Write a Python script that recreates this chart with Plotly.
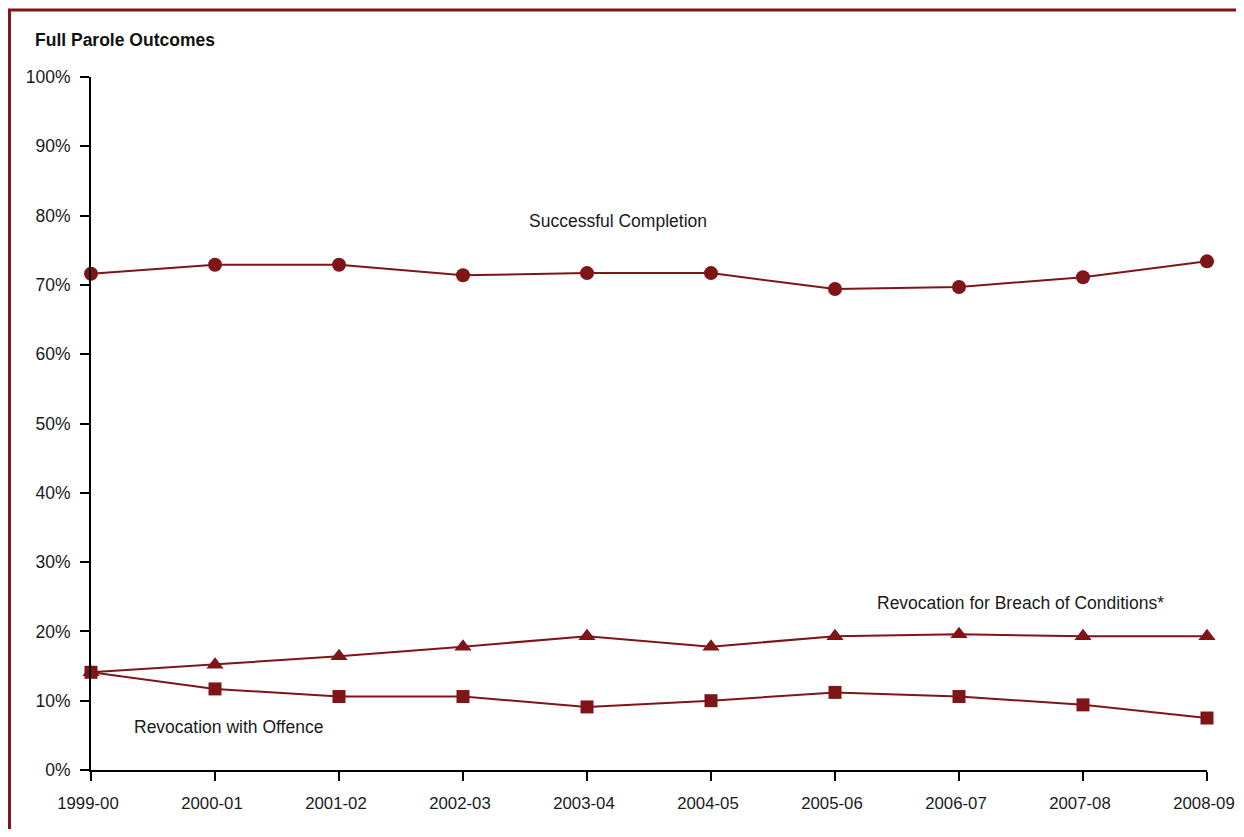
import plotly.graph_objects as go

years = ["1999-00", "2000-01", "2001-02", "2002-03", "2003-04",
         "2004-05", "2005-06", "2006-07", "2007-08", "2008-09"]
successful = [71.6, 72.9, 72.9, 71.4, 71.7, 71.7, 69.4, 69.7, 71.1, 73.4]
breach = [14.1, 15.2, 16.4, 17.8, 19.3, 17.8, 19.3, 19.6, 19.3, 19.3]
offence = [14.1, 11.7, 10.6, 10.6, 9.1, 10.0, 11.2, 10.6, 9.4, 7.5]

COL = "#7f1517"
OFF = 8  # page body margin
W, H = 1244 - 2 * OFF, 837 - 2 * OFF
L = 91 - OFF
R = (1244 - OFF) - 1207
T = 77 - OFF
B = (837 - OFF) - 770
pw, ph = W - L - R, H - T - B
FONT = "Liberation Sans, Arial, sans-serif"
FS = 17.5

def px(x):
    return (x - OFF - L) / pw

def py(y):
    return (H - B - (y - OFF)) / ph

fig = go.Figure()
xs = list(range(len(years)))
fig.add_trace(go.Scatter(x=xs, y=successful, mode="lines+markers",
                         line=dict(color=COL, width=2),
                         marker=dict(symbol="circle", size=14, color=COL),
                         name="Successful Completion"))
fig.add_trace(go.Scatter(x=xs, y=breach, mode="lines+markers",
                         line=dict(color=COL, width=2),
                         marker=dict(symbol="triangle-up", size=15, color=COL),
                         name="Revocation for Breach of Conditions*"))
fig.add_trace(go.Scatter(x=xs, y=offence, mode="lines+markers",
                         line=dict(color=COL, width=2),
                         marker=dict(symbol="square", size=13, color=COL),
                         name="Revocation with Offence"))

axis_common = dict(showgrid=False, zeroline=False, showline=True, linecolor="black",
                   linewidth=2, ticks="outside", ticklen=9, tickwidth=2,
                   tickcolor="black", automargin=False)
fig.update_layout(
    width=W, height=H,
    margin=dict(l=L, r=R, t=T, b=B, autoexpand=False),
    paper_bgcolor="white", plot_bgcolor="white",
    showlegend=False,
    font=dict(family=FONT, size=FS, color="#1a1a1a"),
    xaxis=dict(range=[0, 9], tickmode="array", tickvals=xs, ticktext=years,
               tickfont=dict(size=16.8), ticklabelshift=-3, ticklabelstandoff=8,
               **axis_common),
    yaxis=dict(range=[0, 100], tickmode="linear", tick0=0, dtick=10,
               ticksuffix="%", tickfont=dict(size=FS), ticklabelstandoff=6,
               **axis_common),
)
fig.update_traces(cliponaxis=False)

fig.add_annotation(text="<b>Full Parole Outcomes</b>", xref="paper", yref="paper",
                   x=px(33), y=py(40), xanchor="left", yanchor="middle",
                   showarrow=False, font=dict(size=FS, color="#111111"))
fig.add_annotation(text="Successful Completion", xref="paper", yref="paper",
                   x=px(618), y=py(221), xanchor="center", yanchor="middle",
                   showarrow=False, font=dict(size=FS))
fig.add_annotation(text="Revocation for Breach of Conditions*", xref="paper", yref="paper",
                   x=px(1020), y=py(603), xanchor="center", yanchor="middle",
                   showarrow=False, font=dict(size=FS))
fig.add_annotation(text="Revocation with Offence", xref="paper", yref="paper",
                   x=px(228), y=py(727), xanchor="center", yanchor="middle",
                   showarrow=False, font=dict(size=FS))

fig.add_shape(type="path", xref="paper", yref="paper",
              path=f"M {px(9.5)} {py(840)} L {px(9.5)} {py(10)} L {px(1250)} {py(10)}",
              line=dict(color=COL, width=3))

fig.write_html("out.html")
